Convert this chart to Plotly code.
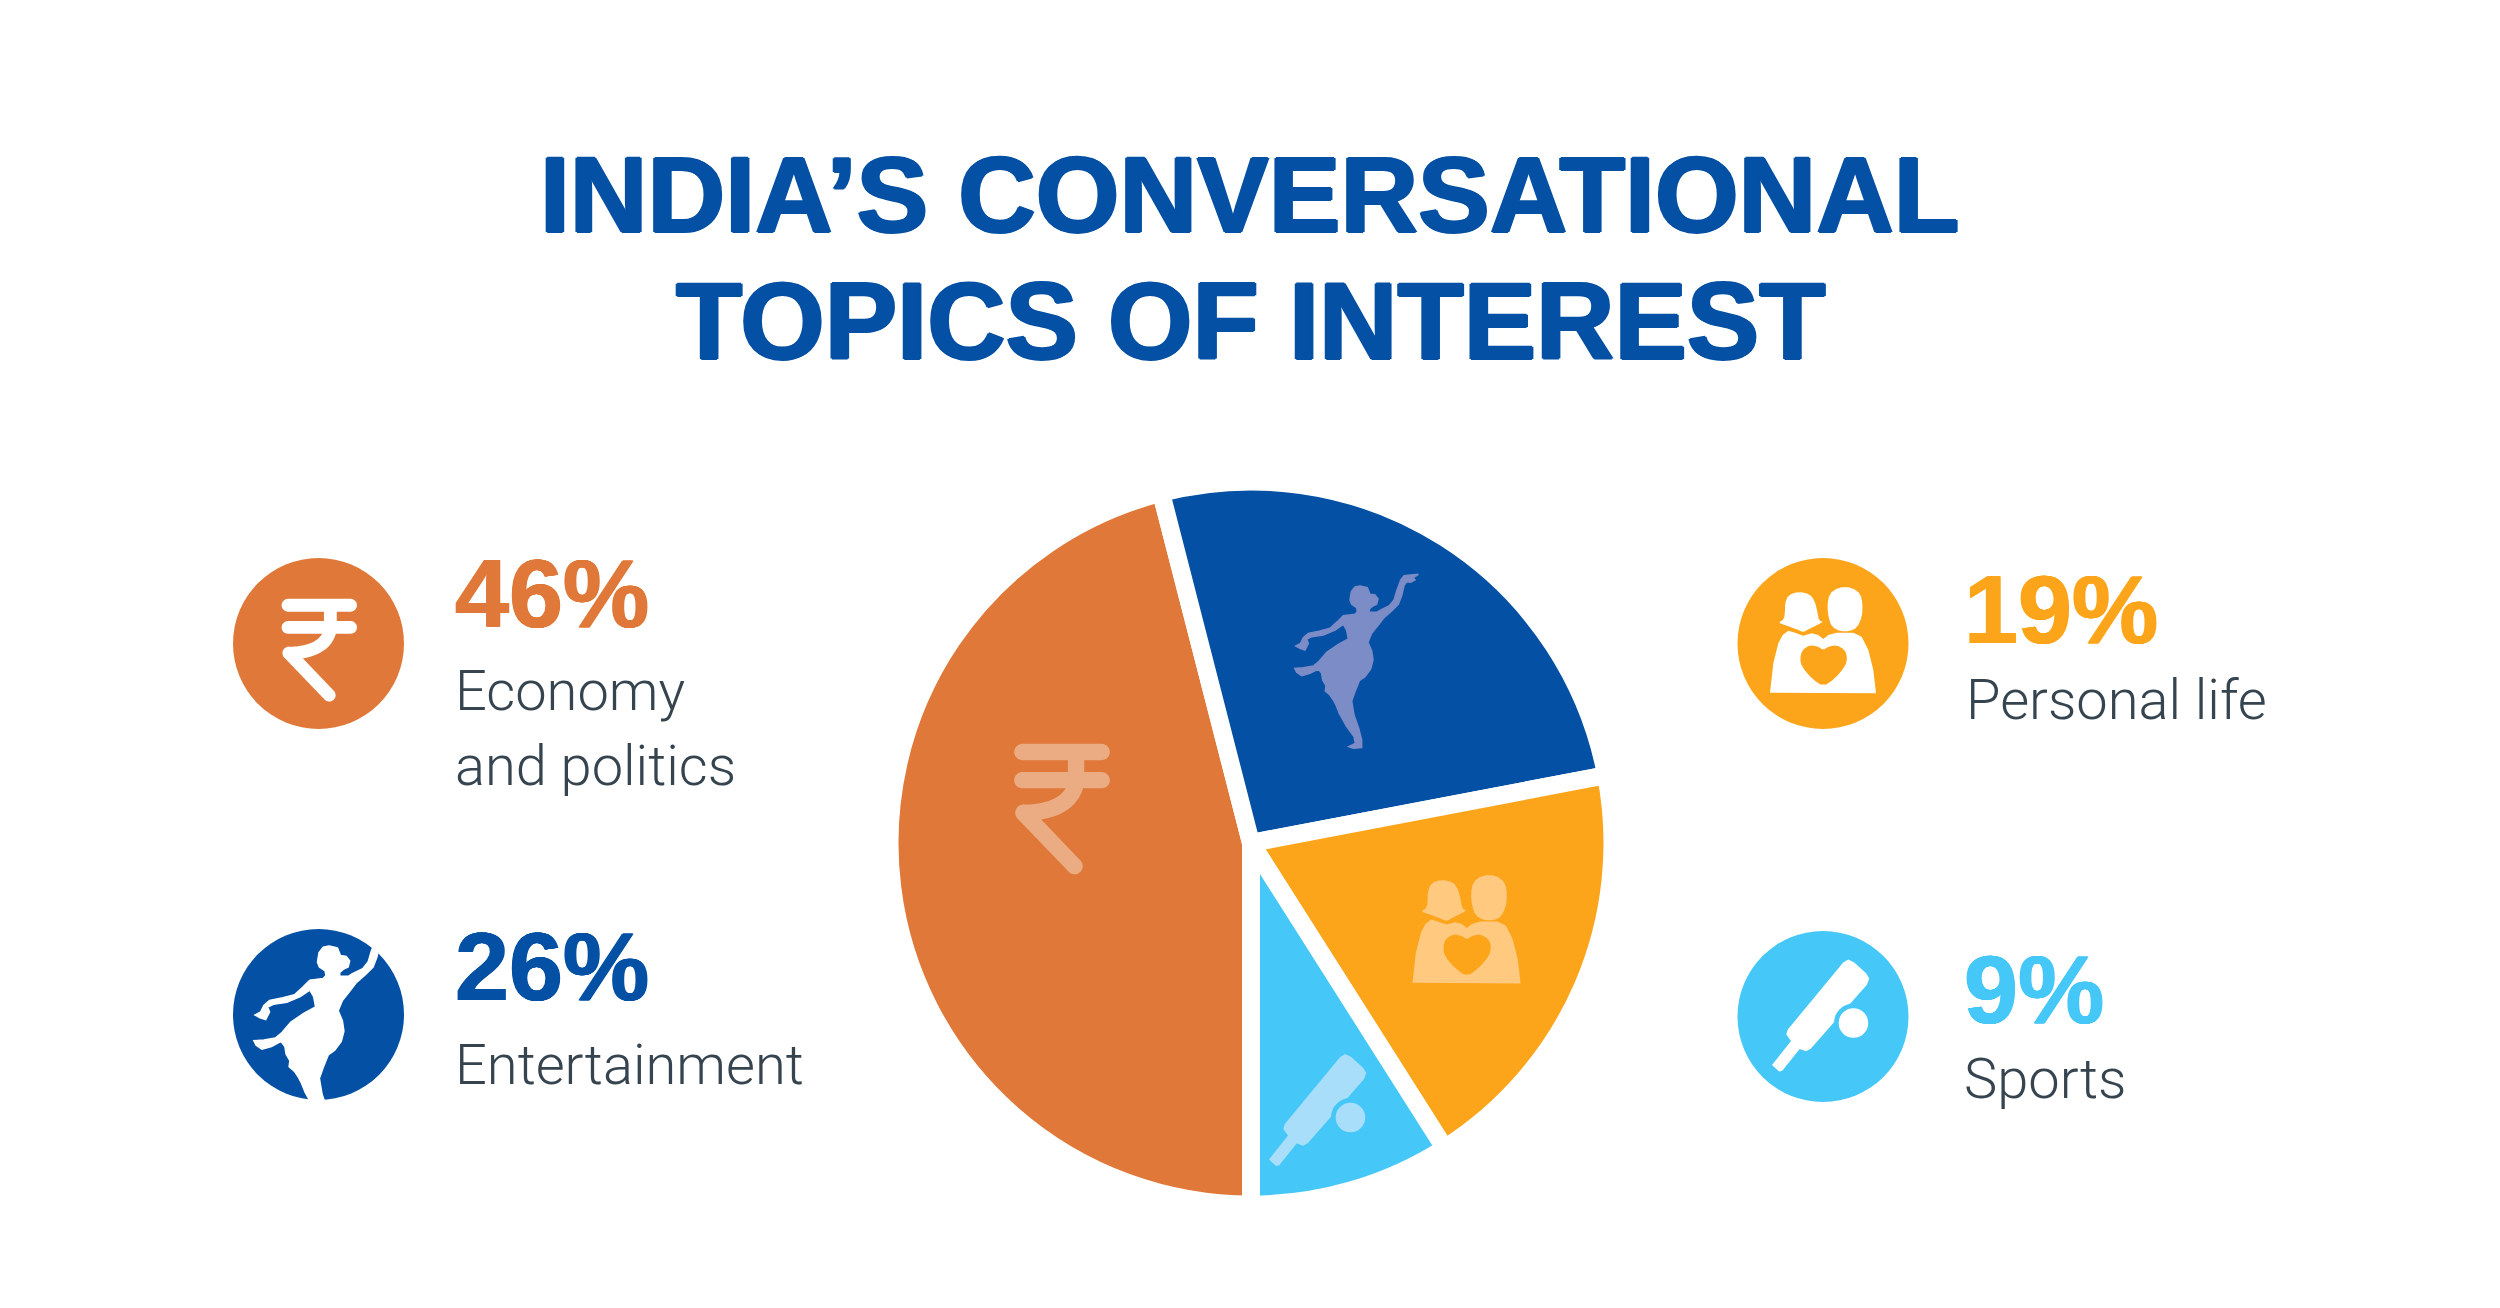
import math
import plotly.graph_objects as go

W, H = 2500, 1308

# ---- data ----
categories = ["Economy and politics", "Entertainment", "Personal life", "Sports"]
values = [46, 26, 19, 9]
label_lines = [["Economy", "and politics"], ["Entertainment"], ["Personal life"], ["Sports"]]
slice_colors = ["#DF7838", "#0450A4", "#FDA51A", "#45C7F8"]
tint_colors = ["#EBAC84", "#7C8CC6", "#FFCA80", "#A8DEFA"]
title_lines = ["INDIA’S CONVERSATIONAL", "TOPICS OF INTEREST"]

BLUE = "#0450A4"
TEXT = "#35444F"
KX, KY = 1 / 2.529, 1 / 2.613

# ---- helpers ----
def px(x, y):
    return x / W, 1 - y / H

def chaikin(pts, n=1):
    for _ in range(n):
        out = []
        for i in range(len(pts)):
            a, b = pts[i], pts[(i + 1) % len(pts)]
            out.append((0.75 * a[0] + 0.25 * b[0], 0.75 * a[1] + 0.25 * b[1]))
            out.append((0.25 * a[0] + 0.75 * b[0], 0.25 * a[1] + 0.75 * b[1]))
        pts = out
    return pts

def poly(pts, color, closed=True, lw=0):
    d = ""
    for i, (x, y) in enumerate(pts):
        u, v = px(x, y)
        d += ("M" if i == 0 else "L") + f"{u:.5f},{v:.5f}"
    if closed:
        d += "Z"
    s = dict(type="path", xref="paper", yref="paper", path=d, layer="above", line=dict(width=lw, color=color))
    if closed:
        s["fillcolor"] = color
    return s

def ellipse(cx, cy, rx, ry, color):
    x0, y0 = px(cx - rx, cy - ry)
    x1, y1 = px(cx + rx, cy + ry)
    return dict(type="circle", xref="paper", yref="paper", x0=x0, x1=x1, y0=y0, y1=y1,
                fillcolor=color, line=dict(width=0), layer="above")

def capsule(x0, y0, x1, y1, w):
    a = math.atan2(y1 - y0, x1 - x0)
    r = w / 2
    pts = []
    for k in range(13):
        t = a + math.pi / 2 + math.pi * k / 12
        pts.append((x0 + r * math.cos(t), y0 + r * math.sin(t)))
    for k in range(13):
        t = a - math.pi / 2 + math.pi * k / 12
        pts.append((x1 + r * math.cos(t), y1 + r * math.sin(t)))
    return pts

def bez(p0, p1, p2, p3, n=16):
    out = []
    for k in range(n + 1):
        t = k / n
        m = 1 - t
        out.append((m**3 * p0[0] + 3 * m * m * t * p1[0] + 3 * m * t * t * p2[0] + t**3 * p3[0],
                    m**3 * p0[1] + 3 * m * m * t * p1[1] + 3 * m * t * t * p2[1] + t**3 * p3[1]))
    return out

# ---- icons ----
def rupee(ox, oy, s, color):
    T = lambda x, y: (ox + x * KX * s, oy + y * KY * s)
    w = 33 * s * (KX + KY) / 2
    shapes = []
    for yy in (-100, -42):
        a, b = T(-77, yy), T(81, yy)
        shapes.append(poly(capsule(*a, *b, w), color))
    a, b = T(-75, 25), T(27, 135)
    shapes.append(poly(capsule(*a, *b, w), color))
    stem = [(30, -85), (30, -42)] + bez((30, -42), (28, -5), (-5, 25), (-75, 25))
    shapes.append(poly([T(*p) for p in stem], color, closed=False, lw=w))
    return shapes

DANCER = [(240,63),(262,68),(270,88),(285,90),(294,102),(290,118),(277,124),(268,132),(268,142),(290,142),
          (300,136),(328,122),(342,105),(350,78),(362,45),(372,32),(392,30),(415,28),(400,38),(405,45),
          (392,52),(380,50),(372,62),(365,92),(355,118),(335,138),(312,158),(295,180),(275,205),(264,232),
          (275,258),(279,285),(272,312),(255,335),(238,347),(225,380),(215,408),(222,450),(236,490),(245,525),
          (245,548),(220,550),(206,545),(226,535),(222,515),(200,485),(178,445),(168,420),(160,405),(150,390),
          (136,378),(138,362),(128,345),(125,325),(115,312),(90,325),(65,332),(50,322),(44,310),(70,308),
          (100,303),(118,288),(140,262),(175,238),(205,222),(200,195),(190,178),(165,195),(130,210),(95,215),
          (80,222),(85,235),(75,255),(60,250),(47,243),(62,235),(70,218),(85,205),(120,198),(150,190),
          (172,170),(190,152),(225,148),(232,140),(230,128),(215,118),(210,105),(214,80),(225,66)]

def dancer(ox, oy, s, color):
    return [poly([(ox + (x - 47) / 3 * s, oy + (y - 63) / 3 * s) for x, y in DANCER], color, lw=1.5)]

WOMAN = [(45,100),(55,75),(85,65),(120,72),(135,95),(142,125),(147,152),(162,155),(115,178),(100,187),
         (85,180),(45,165),(25,158),(42,148),(45,125)]
MAN = [(172,105),(178,72),(205,52),(245,52),(272,72),(278,105),(276,140),(262,172),(240,184),(210,184),
       (185,170),(175,140)]
BODY = [(0,368),(10,280),(25,220),(38,195),(55,182),(75,188),(100,197),(125,190),(145,195),(160,207),
        (175,195),(200,188),(250,188),(275,200),(295,240),(310,300),(318,370)]
HEART = [(160,240),(175,230),(200,225),(225,240),(232,265),(225,290),(195,325),(160,350),(125,325),
         (95,290),(90,265),(97,240),(120,225),(145,230)]

def couple(ox, oy, s, color, bg):
    T = lambda pts: [(ox + (x - 159) / 3 * s, oy + (y - 220.5) / 3 * s) for x, y in pts]
    return [poly(T(chaikin(WOMAN)), color), poly(T(chaikin(MAN)), color), poly(T(BODY), color),
            poly(T(chaikin(HEART)), bg)]

BAT = [(362,1130),(375,1122),(390,1130),(420,1158),(428,1172),(422,1188),(280,1355),(268,1362),(252,1356),
       (208,1413),(200,1415),(182,1398),(230,1335),(218,1318),(222,1305)]

def bat(ox, oy, s, color, bg):
    T = lambda pts: [(ox + (x - 311) * KX * s, oy + (y - 1271) * KY * s) for x, y in pts]
    bx, by = T([(388, 1288)])[0]
    r = s * (KX + KY) / 2
    return [poly(T(BAT), color), ellipse(bx, by, 50 * r, 50 * r, bg), ellipse(bx, by, 38 * r, 38 * r, color)]

# ---- figure ----
R = 361.5
CX, CY = 1251, 843
fig = go.Figure(go.Pie(
    labels=categories, values=values, sort=False, direction="clockwise", rotation=180,
    textinfo="none", hoverinfo="label+percent", showlegend=False,
    marker=dict(colors=slice_colors, line=dict(color="white", width=18)),
    domain=dict(x=[(CX - R) / W, (CX + R) / W], y=[1 - (CY + R) / H, 1 - (CY - R) / H]),
))

shapes = []
disc_pos = [(318.5, 643.5), (318.5, 1014.5), (1823, 643.5), (1823, 1016.5)]
for (cx, cy), c in zip(disc_pos, slice_colors):
    shapes.append(ellipse(cx, cy, 85.5, 85.5, c))
shapes += rupee(disc_pos[0][0], disc_pos[0][1], 1, "white")
shapes += dancer(255, 946, 1.15, "white")
shapes += couple(disc_pos[2][0], disc_pos[2][1], 1, "white", slice_colors[2])
shapes += bat(disc_pos[3][0], disc_pos[3][1], 1, "white", slice_colors[3])
shapes += rupee(1061, 800.6, 1.27, tint_colors[0])
shapes += dancer(1280 + 47 / 3, 565 + 63 / 3, 1, tint_colors[1])
shapes += couple(1466.5, 932.6, 1.02, tint_colors[2], slice_colors[2])
shapes += bat(1320, 1111, 1, tint_colors[3], slice_colors[3])

annotations = []
def text(s, x, base, size, color, anchor="left", family="Liberation Sans", weight=400, desc=0.212, shadow=None):
    u, v = px(x, base + desc * size)
    font = dict(family=family, size=size, color=color, weight=weight)
    if shadow:
        font["shadow"] = shadow
    annotations.append(dict(text=s, x=u, y=v, xref="paper", yref="paper", xanchor=anchor, yanchor="bottom",
                            showarrow=False, borderpad=0, align=anchor, font=font))

def heavy(c, d=1.5):
    return f"{d}px 0 0 {c},-{d}px 0 0 {c},0 {d*0.6}px 0 {c},0 -{d*0.6}px 0 {c}"

text(f"<b>{title_lines[0]}</b>", 1250, 233, 107.5, BLUE, anchor="center", shadow=heavy(BLUE))
text(f"<b>{title_lines[1]}</b>", 1250, 360, 108.5, BLUE, anchor="center", shadow=heavy(BLUE))

pct_pos = [(454, 628.4), (454, 1001.5), (1963, 644.8), (1963, 1024.4)]
name_pos = [(454, [711.8, 786.4]), (454, [1085]), (1965, [720.2]), (1963, [1099.5])]
for v, c, (x, b), (nx, bases), lines in zip(values, slice_colors, pct_pos, name_pos, label_lines):
    text(f"<b>{v}%</b>", x, b, 97, c, shadow=heavy(c, 0.8))
    for ln, nb in zip(lines, bases):
        text(ln, nx, nb, 56, TEXT, family="Roboto", weight=300, desc=0.244)

fig.update_layout(
    width=W, height=H, margin=dict(l=0, r=0, t=0, b=0), paper_bgcolor="white", plot_bgcolor="white",
    shapes=shapes, annotations=annotations,
)
fig.write_html("out.html", post_script="document.body.style.margin='0';", config=dict(displayModeBar=False))
